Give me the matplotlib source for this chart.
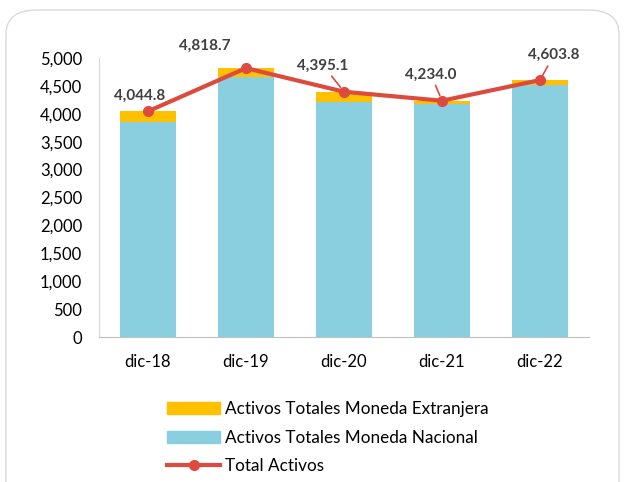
import matplotlib.pyplot as plt
import numpy as np
from matplotlib.patches import FancyBboxPatch
from matplotlib.lines import Line2D
from matplotlib.patches import Patch

plt.rcParams['font.family'] = ['Lato', 'DejaVu Sans']

categories = ["dic-18", "dic-19", "dic-20", "dic-21", "dic-22"]
nacional = [3860, 4655, 4217, 4170, 4516]
extranjera = [184.8, 163.7, 178.1, 64.0, 87.8]
total = [4044.8, 4818.7, 4395.1, 4234.0, 4603.8]
total_labels = ["4,044.8", "4,818.7", "4,395.1", "4,234.0", "4,603.8"]

c_ext = "#FFC000"
c_nac = "#89CFDF"
c_line = "#DD4B3E"
c_text = "#404040"

W, H = 626, 482
fig = plt.figure(figsize=(W / 100, H / 100), dpi=100)

# rounded frame around the chart
frame = FancyBboxPatch((6 / W, -0.05), 613 / W, (H - 10) / H + 0.05,
                       boxstyle="round,pad=0,rounding_size=0.05",
                       transform=fig.transFigure, fill=False,
                       edgecolor="#D9D9D9", linewidth=1.0)
fig.patches.append(frame)

ax = fig.add_axes([99 / W, 1 - 337 / H, 490 / W, 279 / H])
x = np.arange(len(categories))
ax.bar(x, nacional, width=0.58, color=c_nac, zorder=2)
ax.bar(x, extranjera, width=0.58, bottom=nacional, color=c_ext, zorder=2)
ax.plot(x, total, color=c_line, linewidth=3, marker="o", markersize=7, zorder=3)

ax.set_xlim(-0.5, len(categories) - 0.5)
ax.set_ylim(0, 5000)
ax.set_yticks(np.arange(0, 5001, 500))
ax.set_yticklabels([f"{v:,}" for v in range(0, 5001, 500)])
ax.set_xticks(x)
ax.set_xticklabels(categories)
ax.tick_params(axis="both", length=0, labelsize=12, colors="#000000")
ax.tick_params(axis="y", pad=12)
ax.tick_params(axis="x", pad=12)
for s in ["top", "right"]:
    ax.spines[s].set_visible(False)
ax.spines["left"].set_color("#D9D9D9")
ax.spines["bottom"].set_color("#BFBFBF")

# data labels (offsets in points, text centre relative to the point)
offsets = [(-6, 6), (-30, 11), (-15, 14), (-8, 14), (10, 13)]
leaders = [False, False, True, True, True]
for i, (lab, (dx, dy), lead) in enumerate(zip(total_labels, offsets, leaders)):
    ax.annotate(lab, (x[i], total[i]), xytext=(dx, dy), textcoords="offset points",
                ha="center", va="bottom", fontsize=11, fontweight="bold", color=c_text,
                arrowprops=dict(arrowstyle="-", color=c_line, lw=1.2,
                                shrinkA=1, shrinkB=4) if lead else None)

handles = [Patch(color=c_ext, label="Activos Totales Moneda Extranjera"),
           Patch(color=c_nac, label="Activos Totales Moneda Nacional"),
           Line2D([0], [0], color=c_line, lw=3, marker="o", markersize=7, label="Total Activos")]
fig.legend(handles=handles, loc="upper left", bbox_to_anchor=(152 / W, 1 - 386 / H),
           frameon=False, fontsize=12.3, handlelength=3.1, handleheight=0.7,
           labelspacing=0.73, handletextpad=0.25)

fig.savefig("out.png", dpi=100)
